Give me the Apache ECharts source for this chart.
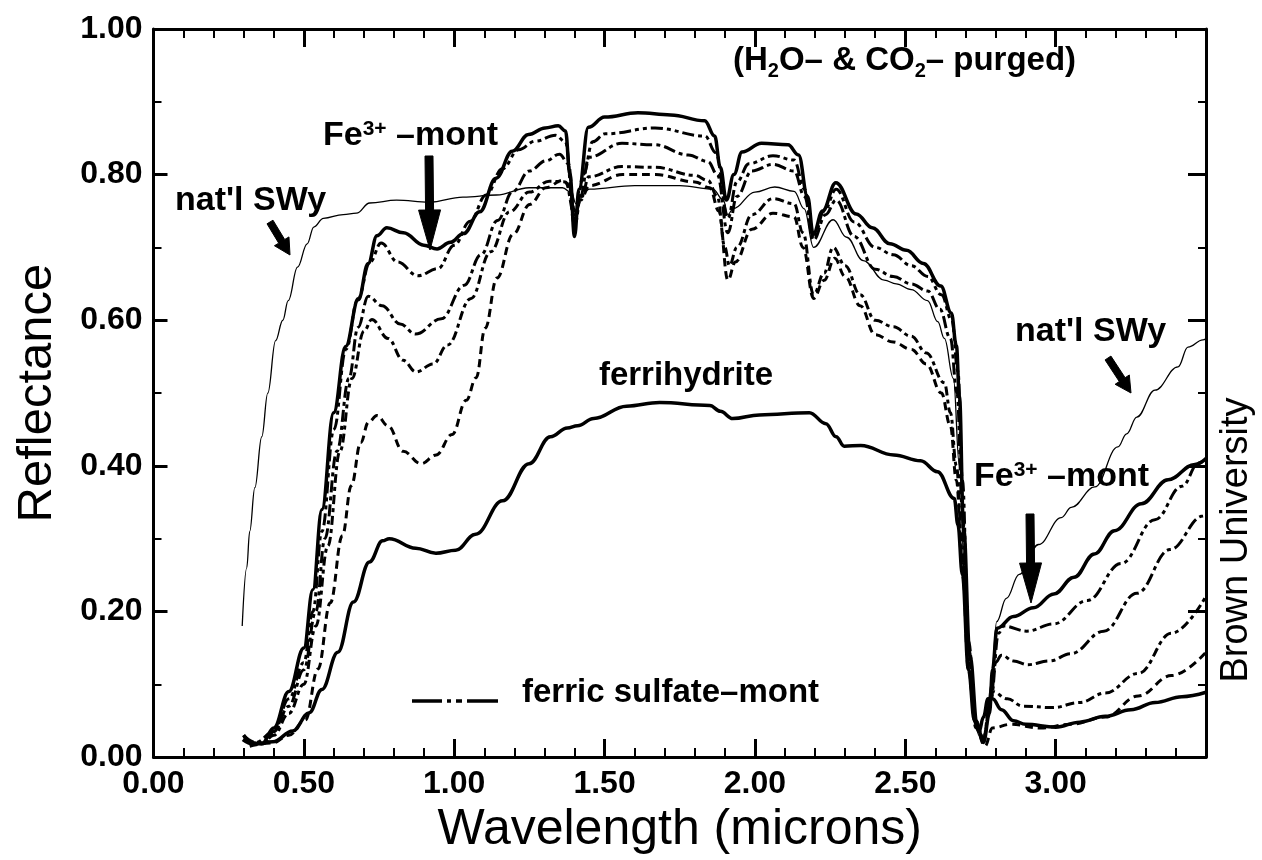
<!DOCTYPE html>
<html>
<head>
<meta charset="utf-8">
<title>Reflectance spectra (H2O- & CO2-purged)</title>
<script src="https://cdn.jsdelivr.net/npm/echarts/dist/echarts.min.js"></script>
<style>
  html, body { margin: 0; padding: 0; background: #fff; }
  #chart { width: 1262px; height: 860px; }
</style>
</head>
<body>
<div id="chart"></div>
<script>
// Wavelength (microns) / reflectance pairs for each spectrum
const natlSWy = [
  [0.295,0.18],[0.31,0.26],[0.32,0.31],[0.337,0.37],[0.36,0.44],[0.38,0.50],[0.406,0.572],
  [0.43,0.60],[0.448,0.627],[0.479,0.673],[0.511,0.705],[0.533,0.728],[0.565,0.740],
  [0.631,0.745],[0.675,0.747],[0.719,0.761],[0.808,0.765],[0.917,0.762],[1.029,0.769],
  [1.14,0.772],[1.249,0.782],[1.36,0.782],[1.39,0.775],[1.405,0.76],[1.42,0.77],[1.45,0.78],
  [1.6,0.785],[1.75,0.785],[1.86,0.78],[1.895,0.765],[1.91,0.745],[1.927,0.753],[2.0,0.776],
  [2.066,0.783],[2.13,0.777],[2.164,0.753],[2.195,0.70],[2.26,0.738],[2.305,0.714],
  [2.36,0.682],[2.43,0.655],[2.47,0.65],[2.52,0.642],[2.574,0.627],[2.608,0.598],[2.63,0.575],
  [2.66,0.52],[2.68,0.40],[2.70,0.22],[2.72,0.08],[2.745,0.03],[2.765,0.025],[2.785,0.10],
  [2.804,0.186],[2.836,0.218],[2.879,0.251],[2.943,0.292],[3.019,0.329],[3.052,0.343],
  [3.13,0.371],[3.207,0.426],[3.236,0.444],[3.27,0.467],[3.33,0.504],[3.407,0.536],
  [3.44,0.563],[3.49,0.573],[3.5,0.575]
];

const fe3Mont = [
  [0.30,0.03],[0.32,0.02],[0.36,0.018],[0.40,0.04],[0.45,0.09],[0.50,0.15],[0.53,0.23],
  [0.56,0.34],[0.599,0.473],[0.639,0.564],[0.681,0.628],[0.714,0.678],[0.743,0.716],
  [0.776,0.727],[0.831,0.72],[0.899,0.703],[0.943,0.698],[0.987,0.707],[1.031,0.719],
  [1.085,0.749],[1.139,0.795],[1.193,0.832],[1.247,0.855],[1.302,0.864],[1.346,0.867],
  [1.37,0.86],[1.385,0.80],[1.40,0.715],[1.415,0.78],[1.446,0.865],[1.50,0.879],[1.611,0.885],
  [1.72,0.882],[1.833,0.874],[1.866,0.853],[1.885,0.81],[1.905,0.765],[1.93,0.80],
  [1.957,0.831],[2.022,0.843],[2.11,0.841],[2.145,0.827],[2.175,0.77],[2.194,0.718],
  [2.225,0.75],[2.269,0.789],[2.337,0.746],[2.39,0.727],[2.449,0.705],[2.504,0.696],
  [2.56,0.678],[2.618,0.647],[2.653,0.61],[2.67,0.565],[2.68,0.496],[2.694,0.314],
  [2.715,0.14],[2.74,0.04],[2.76,0.02],[2.78,0.06],[2.79,0.12],[2.805,0.177],[2.86,0.193],
  [2.926,0.205],[2.994,0.224],[3.061,0.247],[3.129,0.279],[3.196,0.311],[3.285,0.348],
  [3.374,0.381],[3.463,0.402],[3.5,0.41]
];

const sulfateMontA = [
  [0.30,0.03],[0.33,0.02],[0.37,0.02],[0.40,0.035],[0.45,0.08],[0.50,0.13],[0.53,0.20],
  [0.56,0.31],[0.60,0.45],[0.64,0.56],[0.68,0.63],[0.72,0.68],[0.757,0.706],[0.812,0.68],
  [0.879,0.661],[0.946,0.671],[1.0,0.703],[1.053,0.736],[1.106,0.772],[1.16,0.808],
  [1.214,0.834],[1.27,0.846],[1.337,0.854],[1.37,0.845],[1.40,0.73],[1.43,0.80],[1.46,0.845],
  [1.502,0.856],[1.668,0.864],[1.834,0.853],[1.87,0.83],[1.91,0.74],[1.94,0.79],[1.98,0.815],
  [2.06,0.826],[2.13,0.82],[2.165,0.78],[2.195,0.712],[2.23,0.75],[2.27,0.78],[2.33,0.735],
  [2.40,0.70],[2.46,0.69],[2.52,0.675],[2.575,0.66],[2.62,0.635],[2.655,0.60],[2.675,0.53],
  [2.69,0.38],[2.71,0.16],[2.735,0.05],[2.76,0.025],[2.785,0.08],[2.81,0.17],[2.827,0.18],
  [2.904,0.173],[2.994,0.183],[3.105,0.215],[3.218,0.266],[3.33,0.326],[3.42,0.372],
  [3.476,0.404],[3.5,0.41]
];

const sulfateMontB = [
  [0.30,0.03],[0.34,0.02],[0.40,0.035],[0.45,0.07],[0.50,0.12],[0.54,0.20],[0.57,0.30],
  [0.61,0.42],[0.65,0.52],[0.68,0.59],[0.714,0.633],[0.76,0.62],[0.82,0.595],[0.871,0.581],
  [0.957,0.602],[1.033,0.648],[1.089,0.69],[1.144,0.737],[1.195,0.777],[1.25,0.805],
  [1.305,0.819],[1.35,0.828],[1.38,0.815],[1.40,0.74],[1.42,0.77],[1.448,0.824],[1.558,0.843],
  [1.667,0.841],[1.778,0.827],[1.844,0.818],[1.875,0.80],[1.91,0.72],[1.94,0.77],[1.99,0.805],
  [2.06,0.814],[2.13,0.805],[2.165,0.77],[2.195,0.71],[2.235,0.745],[2.27,0.765],[2.33,0.715],
  [2.40,0.67],[2.46,0.66],[2.52,0.65],[2.575,0.64],[2.615,0.615],[2.65,0.575],[2.672,0.50],
  [2.69,0.34],[2.71,0.15],[2.735,0.05],[2.76,0.025],[2.785,0.08],[2.80,0.13],[2.82,0.14],
  [2.86,0.132],[2.908,0.127],[2.98,0.132],[3.05,0.142],[3.16,0.173],[3.27,0.225],[3.38,0.285],
  [3.49,0.331],[3.5,0.335]
];

const sulfateMontC = [
  [0.32,0.02],[0.36,0.018],[0.40,0.03],[0.45,0.06],[0.50,0.10],[0.54,0.18],[0.58,0.29],
  [0.62,0.42],[0.66,0.52],[0.70,0.585],[0.726,0.601],[0.78,0.575],[0.83,0.545],[0.873,0.529],
  [0.93,0.54],[0.978,0.566],[1.056,0.63],[1.121,0.694],[1.184,0.749],[1.25,0.776],
  [1.316,0.791],[1.37,0.79],[1.40,0.745],[1.425,0.77],[1.447,0.797],[1.558,0.811],[1.668,0.81],
  [1.80,0.799],[1.844,0.792],[1.875,0.77],[1.90,0.70],[1.915,0.675],[1.94,0.70],[1.99,0.745],
  [2.06,0.767],[2.13,0.76],[2.16,0.72],[2.195,0.635],[2.23,0.665],[2.26,0.70],[2.30,0.675],
  [2.35,0.635],[2.40,0.60],[2.46,0.591],[2.52,0.578],[2.57,0.555],[2.63,0.514],[2.65,0.473],
  [2.67,0.40],[2.69,0.28],[2.71,0.13],[2.735,0.045],[2.76,0.025],[2.78,0.07],[2.79,0.09],
  [2.84,0.08],[2.89,0.07],[2.99,0.068],[3.08,0.075],[3.165,0.088],[3.275,0.115],[3.385,0.17],
  [3.5,0.221]
];

const sulfateMontD = [
  [0.32,0.015],[0.396,0.0195],[0.45,0.03],[0.505,0.051],[0.547,0.121],[0.588,0.212],
  [0.628,0.304],[0.658,0.373],[0.689,0.432],[0.715,0.46],[0.743,0.469],[0.78,0.455],
  [0.83,0.42],[0.89,0.403],[0.94,0.415],[0.993,0.443],[1.04,0.49],[1.073,0.521],[1.103,0.589],
  [1.142,0.658],[1.196,0.718],[1.251,0.759],[1.305,0.782],[1.36,0.792],[1.385,0.785],
  [1.40,0.75],[1.42,0.765],[1.45,0.785],[1.56,0.80],[1.67,0.80],[1.80,0.79],[1.85,0.782],
  [1.88,0.75],[1.91,0.655],[1.935,0.68],[1.99,0.725],[2.06,0.747],[2.13,0.742],[2.16,0.70],
  [2.195,0.63],[2.23,0.655],[2.265,0.685],[2.30,0.66],[2.35,0.62],[2.40,0.58],[2.46,0.57],
  [2.52,0.56],[2.57,0.54],[2.62,0.50],[2.65,0.455],[2.67,0.38],[2.69,0.26],[2.71,0.12],
  [2.735,0.04],[2.765,0.015],[2.79,0.04],[2.85,0.045],[2.95,0.04],[3.05,0.045],[3.165,0.055],
  [3.275,0.084],[3.385,0.112],[3.5,0.144]
];

const ferrihydrite = [
  [0.297,0.024],[0.33,0.018],[0.397,0.021],[0.463,0.036],[0.518,0.061],[0.56,0.093],
  [0.613,0.144],[0.665,0.213],[0.718,0.268],[0.762,0.297],[0.784,0.30],[0.872,0.287],
  [0.939,0.28],[1.005,0.284],[1.071,0.306],[1.161,0.352],[1.249,0.403],[1.32,0.44],
  [1.376,0.452],[1.41,0.455],[1.464,0.465],[1.573,0.482],[1.683,0.487],[1.85,0.483],
  [1.885,0.475],[1.926,0.465],[2.015,0.47],[2.181,0.473],[2.236,0.458],[2.27,0.44],
  [2.297,0.427],[2.352,0.428],[2.462,0.415],[2.551,0.407],[2.607,0.392],[2.663,0.355],
  [2.675,0.319],[2.69,0.25],[2.71,0.12],[2.73,0.05],[2.745,0.035],[2.76,0.055],[2.775,0.08],
  [2.79,0.08],[2.82,0.065],[2.86,0.05],[2.9,0.045],[3.0,0.041],[3.08,0.048],[3.165,0.056],
  [3.25,0.065],[3.331,0.075],[3.42,0.083],[3.5,0.089]
];

// Axis ranges and tick spacing
const xRange = [0, 3.5];
const xStep = 0.5;
const yRange = [0, 1];
const yStep = 0.2;

const FONT = '"Liberation Sans", Arial, Helvetica, sans-serif';
const INK = '#000';

const chart = echarts.init(document.getElementById('chart'), null, { renderer: 'canvas' });

function arrowPoints(x1, y1, x2, y2, shaft, head, headLen) {
  const dx = x2 - x1, dy = y2 - y1, L = Math.hypot(dx, dy);
  const ux = dx / L, uy = dy / L, nx = -uy, ny = ux;
  const bx = x2 - ux * headLen, by = y2 - uy * headLen;
  const s = shaft / 2, h = head / 2;
  return [
    [x1 + nx * s, y1 + ny * s], [bx + nx * s, by + ny * s], [bx + nx * h, by + ny * h],
    [x2, y2],
    [bx - nx * h, by - ny * h], [bx - nx * s, by - ny * s], [x1 - nx * s, y1 - ny * s]
  ];
}

function arrow(x1, y1, x2, y2, shaft, head, headLen) {
  return {
    type: 'polygon', z: 20,
    shape: { points: arrowPoints(x1, y1, x2, y2, shaft, head, headLen) },
    style: { fill: INK, stroke: INK, lineWidth: 1 }
  };
}

function label(x, y, text, size, align) {
  return {
    type: 'text', x: x, y: y, z: 20,
    style: {
      text: text, fill: INK, font: 'bold ' + size + 'px ' + FONT,
      align: align || 'left', verticalAlign: 'middle'
    }
  };
}

const feRich = {
  b: { fontSize: 34, fontWeight: 'bold', fontFamily: FONT, color: INK },
  sup: { fontSize: 21, fontWeight: 'bold', fontFamily: FONT, color: INK, verticalAlign: 'top' }
};

function feLabel(x, y) {
  return {
    type: 'text', x: x, y: y, z: 20,
    style: {
      text: '{b|Fe}{sup|3+}{b| –mont}', rich: feRich, fill: INK,
      align: 'left', verticalAlign: 'middle'
    }
  };
}

function lineSeries(name, data, width, dash) {
  return {
    name: name, type: 'line', data: data,
    showSymbol: false, symbol: 'none',
    smooth: 0.4, smoothMonotone: 'x',
    lineStyle: { color: INK, width: width, type: dash || 'solid', cap: 'butt', join: 'round' },
    emphasis: { disabled: true },
    z: 5
  };
}

const baseX = {
  type: 'value', min: xRange[0], max: xRange[1], interval: xStep,
  splitLine: { show: false },
  axisLine: { show: true, onZero: false, lineStyle: { color: INK, width: 3 } },
  axisTick: { show: true, inside: true, length: 18, lineStyle: { color: INK, width: 3 } },
  minorTick: { show: true, splitNumber: 5, length: 9, lineStyle: { color: INK, width: 2 } }
};
const baseY = {
  type: 'value', min: yRange[0], max: yRange[1], interval: yStep,
  splitLine: { show: false },
  axisLine: { show: true, onZero: false, lineStyle: { color: INK, width: 3 } },
  axisTick: { show: true, inside: true, length: 14, lineStyle: { color: INK, width: 3 } },
  minorTick: { show: true, splitNumber: 2, length: 8, lineStyle: { color: INK, width: 2 } }
};

const option = {
  animation: false,
  backgroundColor: '#fff',
  grid: { left: 153.5, right: 56, top: 29, bottom: 101, containLabel: false },
  xAxis: [
    Object.assign({}, baseX, {
      position: 'bottom',
      name: 'Wavelength (microns)', nameLocation: 'middle', nameGap: 38,
      nameTextStyle: { fontFamily: FONT, fontSize: 50, color: INK },
      axisLabel: {
        formatter: v => v.toFixed(2), showMaxLabel: false,
        fontFamily: FONT, fontSize: 32, fontWeight: 'bold', color: INK, margin: 11
      }
    }),
    Object.assign({}, baseX, { position: 'top', axisLabel: { show: false } })
  ],
  yAxis: [
    Object.assign({}, baseY, {
      position: 'left',
      name: 'Reflectance', nameLocation: 'middle', nameGap: 92,
      nameTextStyle: { fontFamily: FONT, fontSize: 49, color: INK },
      axisLabel: {
        formatter: v => v.toFixed(2),
        fontFamily: FONT, fontSize: 32, fontWeight: 'bold', color: INK, margin: 11
      }
    }),
    Object.assign({}, baseY, {
      position: 'right', axisLabel: { show: false },
      axisTick: { show: true, inside: true, length: 18, lineStyle: { color: INK, width: 3 } }
    })
  ],
  series: [
    lineSeries("nat'l SWy", natlSWy, 1.3),
    lineSeries('ferric sulfate-mont (a)', sulfateMontA, 3, [12, 4, 4, 4, 4, 4]),
    lineSeries('ferric sulfate-mont (b)', sulfateMontB, 3, [12, 4, 4, 4]),
    lineSeries('ferric sulfate-mont (c)', sulfateMontC, 3, [9, 4, 4, 4]),
    lineSeries('ferric sulfate-mont (d)', sulfateMontD, 3, [8, 5]),
    lineSeries('Fe3+-mont', fe3Mont, 3.5),
    lineSeries('ferrihydrite', ferrihydrite, 3.5)
  ],
  graphic: [
    {
      type: 'text', x: 733, y: 61, z: 20,
      style: {
        text: '{a|(H}{s|2}{a|O– & CO}{s|2}{a|– purged)}',
        rich: {
          a: { fontSize: 33, fontWeight: 'bold', fontFamily: FONT, color: INK, lineHeight: 40 },
          s: { fontSize: 20, fontWeight: 'bold', fontFamily: FONT, color: INK, lineHeight: 22, verticalAlign: 'bottom' }
        },
        align: 'left', verticalAlign: 'middle', fill: INK
      }
    },
    feLabel(323, 136),
    label(175, 201, "nat'l SWy", 34),
    arrow(270, 222, 290, 255, 7, 17, 16),
    arrow(429, 156, 430, 250, 8, 22, 40),
    label(686, 376, 'ferrihydrite', 33, 'center'),
    {
      type: 'polyline', z: 20,
      shape: { points: [[412, 701], [498, 701]] },
      style: { stroke: INK, lineWidth: 3.5, lineDash: [30, 5, 4, 5, 6, 5, 31], fill: null }
    },
    label(522, 693, 'ferric sulfate–mont', 33),
    label(1015, 332, "nat'l SWy", 34),
    arrow(1108, 358, 1131, 393, 7, 17, 16),
    feLabel(974, 477),
    arrow(1030, 514, 1031, 603, 8, 22, 40),
    {
      type: 'text', x: 1237, y: 540, rotation: Math.PI / 2, z: 20,
      style: {
        text: 'Brown University', fill: INK, font: '38px ' + FONT,
        align: 'center', verticalAlign: 'middle'
      }
    }
  ]
};

chart.setOption(option);
</script>
</body>
</html>
